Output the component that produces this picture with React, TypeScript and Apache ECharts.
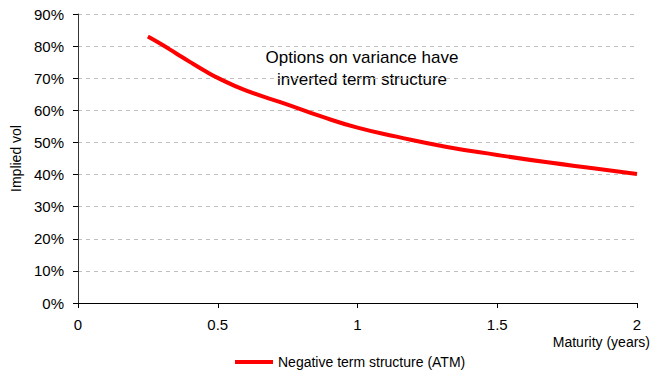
import React, { useEffect, useRef } from "react";
import * as echarts from "echarts";

const maturities = [0.25, 0.3, 0.35, 0.4, 0.45, 0.5, 0.6, 0.75, 0.87, 1.0, 1.14, 1.32, 1.5, 1.68, 1.85, 2.0];
const impliedVol = [83, 80.5, 77.8, 75.1, 72.5, 70.1, 66.2, 61.8, 58.1, 54.6, 51.8, 48.6, 46.1, 43.8, 41.9, 40.2];
const seriesName = "Negative term structure (ATM)";
const noteLines = ["Options on variance have", "inverted term structure"];
const xAxisTitle = "Maturity (years)";
const yAxisTitle = "Implied vol";

export default function App() {
  const ref = useRef<HTMLDivElement>(null);
  useEffect(() => {
    const chart = echarts.init(ref.current!, undefined, { renderer: "svg" });
    const font = "'Liberation Sans', Arial, sans-serif";
    chart.setOption({
      animation: false,
      textStyle: { fontFamily: font },
      grid: { left: 78, right: 13, top: 14, bottom: 72 },
      xAxis: {
        type: "value",
        min: 0,
        max: 2,
        interval: 0.5,
        axisLine: { lineStyle: { color: "#000", width: 1 } },
        axisTick: { show: true, inside: false, length: 5, lineStyle: { color: "#000" } },
        axisLabel: { color: "#000", fontSize: 15, margin: 14 },
        splitLine: { show: false },
      },
      yAxis: {
        type: "value",
        min: 0,
        max: 90,
        interval: 10,
        name: yAxisTitle,
        nameLocation: "middle",
        nameGap: 55,
        nameRotate: 90,
        nameTextStyle: { color: "#000", fontSize: 14 },
        axisLine: { show: true, lineStyle: { color: "#333", width: 1 } },
        axisTick: { show: true, inside: false, length: 5, lineStyle: { color: "#000" } },
        axisLabel: { color: "#000", fontSize: 15, margin: 14, formatter: (v: number) => v + "%" },
        splitLine: { show: true, lineStyle: { color: "#c0c0c0", type: [4, 4], width: 1 } },
      },
      legend: {
        top: 355,
        left: 235,
        padding: 0,
        itemWidth: 38,
        itemHeight: 4,
        itemGap: 2,
        icon: "rect",
        textStyle: { color: "#000", fontSize: 14 },
        data: [seriesName],
      },
      graphic: [
        {
          type: "text",
          x: 362,
          y: 46,
          style: {
            text: noteLines.join("\n"),
            font: "17px " + font,
            fill: "#000",
            align: "center",
            verticalAlign: "top",
            lineHeight: 22,
          },
        },
        {
          type: "text",
          x: 650,
          y: 335,
          style: {
            text: xAxisTitle,
            font: "14px " + font,
            fill: "#000",
            align: "right",
            verticalAlign: "top",
          },
        },
      ],
      series: [
        {
          name: seriesName,
          type: "line",
          data: maturities.map((m, i) => [m, impliedVol[i]]),
          smooth: 0.5,
          showSymbol: false,
          lineStyle: { color: "#ff0000", width: 4 },
          itemStyle: { color: "#ff0000" },
        },
      ],
    });
    return () => chart.dispose();
  }, []);
  return <div ref={ref} style={{ width: 650, height: 375, position: "absolute", left: 0, top: 0 }} />;
}
